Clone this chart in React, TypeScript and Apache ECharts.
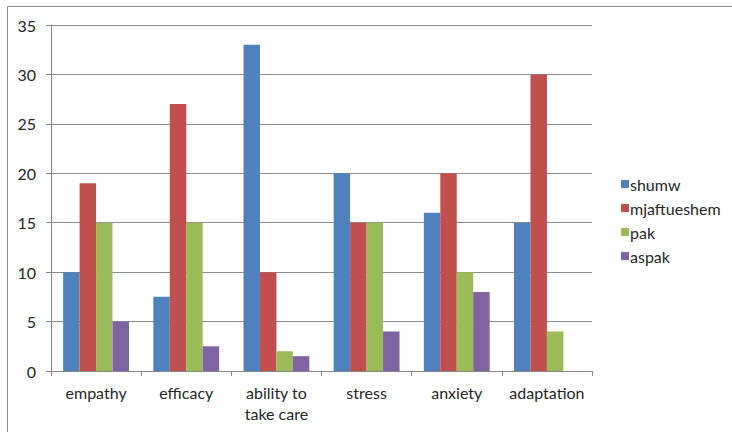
import React, { useEffect, useRef } from "react";
import * as echarts from "echarts";

const categories = ["empathy", "efficacy", "ability to\ntake care", "stress", "anxiety", "adaptation"];
const shumw = [10, 7.5, 33, 20, 16, 15];
const mjaftueshem = [19, 27, 10, 15, 20, 30];
const pak = [15, 15, 2, 15, 10, 4];
const aspak = [5, 2.5, 1.5, 4, 8, 0];
const seriesNames = ["shumw", "mjaftueshem", "pak", "aspak"];
const colors = ["#4F81BD", "#C0504D", "#9BBB59", "#8064A2"];

const FONT = "Lato";

export default function App() {
  const ref = useRef<HTMLDivElement>(null);
  useEffect(() => {
    if (!ref.current) return;
    const chart = echarts.init(ref.current, undefined, { renderer: "svg" });
    const data = [shumw, mjaftueshem, pak, aspak];
    chart.setOption({
      animation: false,
      backgroundColor: "#ffffff",
      textStyle: { fontFamily: FONT },
      graphic: [
        {
          type: "rect",
          shape: { x: 7.5, y: 6.5, width: 740, height: 440 },
          style: { fill: "none", stroke: "#8c8c8c", lineWidth: 1 },
          silent: true,
        },
      ],
      grid: { left: 51, top: 25, right: 140, bottom: 61, containLabel: false },
      legend: {
        orient: "vertical",
        left: 616,
        top: 171,
        itemWidth: 8,
        itemHeight: 8,
        itemGap: 8,
        icon: "rect",
        textStyle: { fontFamily: FONT, fontSize: 16, color: "#262626", padding: [0, 0, 0, -4] },
        data: seriesNames,
      },
      xAxis: {
        type: "category",
        data: categories,
        axisLine: { lineStyle: { color: "#868686" } },
        axisTick: { show: true, length: 5, lineStyle: { color: "#868686" } },
        axisLabel: { fontFamily: FONT, fontSize: 16, color: "#262626", margin: 11, lineHeight: 21, interval: 0 },
      },
      yAxis: {
        type: "value",
        min: 0,
        max: 35,
        interval: 5,
        axisLine: { show: true, lineStyle: { color: "#868686" } },
        axisTick: { show: true, length: 5, lineStyle: { color: "#868686" } },
        axisLabel: { fontFamily: FONT, fontSize: 16, color: "#262626", margin: 15 },
        splitLine: { lineStyle: { color: "#8c8c8c", width: 1 } },
      },
      series: seriesNames.map((name, i) => ({
        name,
        type: "bar",
        data: data[i],
        itemStyle: { color: colors[i] },
        barGap: "0%",
        barCategoryGap: "27%",
      })),
    });
    return () => chart.dispose();
  }, []);
  return <div ref={ref} style={{ width: 732, height: 432, position: "absolute", left: 0, top: 0 }} />;
}
